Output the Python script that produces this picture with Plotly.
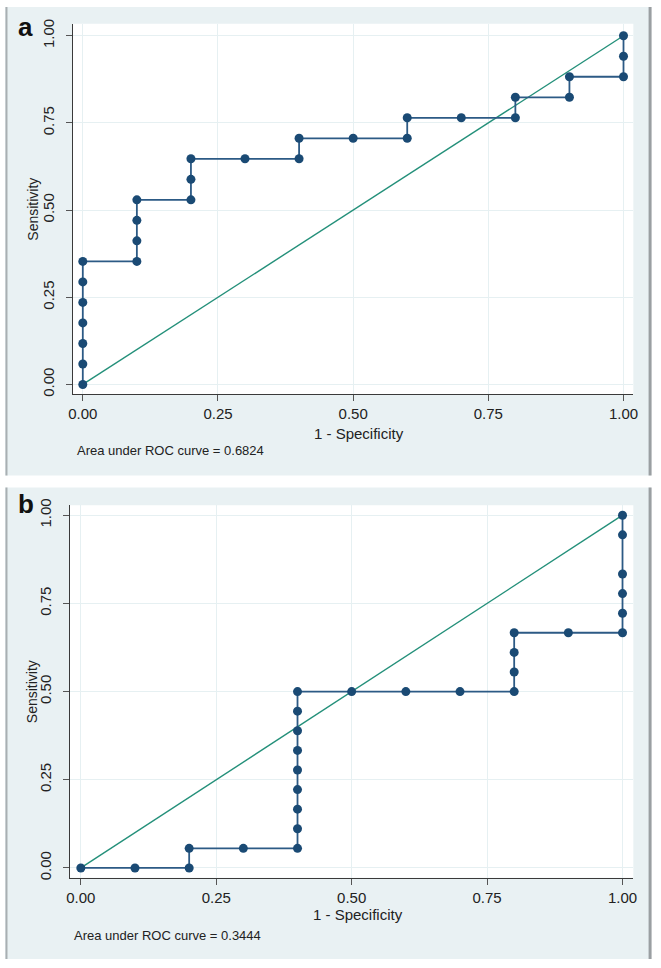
import plotly.graph_objects as go

W, H = 661, 968

# panel a: 1 - specificity / sensitivity steps
a_fpr = [0.0, 0.0, 0.0, 0.0, 0.0, 0.0, 0.0, 0.1, 0.1, 0.1, 0.1, 0.2, 0.2, 0.2,
         0.3, 0.4, 0.4, 0.5, 0.6, 0.6, 0.7, 0.8, 0.8, 0.9, 0.9, 1.0, 1.0, 1.0]
a_sens = [0.0, 0.0588, 0.1176, 0.1765, 0.2353, 0.2941, 0.3529, 0.3529, 0.4118,
          0.4706, 0.5294, 0.5294, 0.5882, 0.6471, 0.6471, 0.6471, 0.7059, 0.7059,
          0.7059, 0.7647, 0.7647, 0.7647, 0.8235, 0.8235, 0.8824, 0.8824, 0.9412, 1.0]
a_auc = "0.6824"

# panel b
b_fpr = [0.0, 0.1, 0.2, 0.2, 0.3, 0.4, 0.4, 0.4, 0.4, 0.4, 0.4, 0.4, 0.4, 0.4,
         0.5, 0.6, 0.7, 0.8, 0.8, 0.8, 0.8, 0.9, 1.0, 1.0, 1.0, 1.0, 1.0, 1.0]
b_sens = [0.0, 0.0, 0.0, 0.0556, 0.0556, 0.0556, 0.1111, 0.1667, 0.2222, 0.2778,
          0.3333, 0.3889, 0.4444, 0.5, 0.5, 0.5, 0.5, 0.5, 0.5556, 0.6111, 0.6667,
          0.6667, 0.6667, 0.7222, 0.7778, 0.8333, 0.9444, 1.0]
b_auc = "0.3444"

ref_line = [0, 1]
ticks = [0, 0.25, 0.5, 0.75, 1.0]
tick_text = ["0.00", "0.25", "0.50", "0.75", "1.00"]

NAVY = "#1a4a74"
TEAL = "#24907a"
PANEL_BG = "#e9f1f3"
GRID = "#e6f0f2"
FONT = "Liberation Sans, Arial, sans-serif"


def px(x):
    return x / W


def py(y):
    return 1 - y / H


# pixel geometry of each panel
panels = [
    dict(name="a", fpr=a_fpr, sens=a_sens, auc=a_auc, top=0, bottom=473,
         plot=(69, 638, 17, 391), xr=[-0.0182, 1.0182], yr=[-0.0284, 1.0341],
         xtitle_y=430, auc_y=448, auc_x=71, ylab_x=29, letter_y=20),
    dict(name="b", fpr=b_fpr, sens=b_sens, auc=b_auc, top=485, bottom=961,
         plot=(66, 638, 503, 879), xr=[-0.02, 1.02], yr=[-0.028, 1.028],
         xtitle_y=916, auc_y=937, auc_x=68, ylab_x=27, letter_y=502),
]

fig = go.Figure()
shapes = []
annotations = []

for i, p in enumerate(panels, start=1):
    xa = "x" if i == 1 else f"x{i}"
    ya = "y" if i == 1 else f"y{i}"
    fig.add_trace(go.Scatter(
        x=ref_line, y=ref_line, mode="lines", xaxis=xa, yaxis=ya,
        line=dict(color=TEAL, width=1.4), showlegend=False, hoverinfo="skip",
    ))
    fig.add_trace(go.Scatter(
        x=p["fpr"], y=p["sens"], mode="lines+markers", xaxis=xa, yaxis=ya,
        line=dict(color="#2c5a85", width=1.8),
        marker=dict(color=NAVY, size=9), showlegend=False,
    ))
    x0, x1, y0, y1 = p["plot"]
    common = dict(
        tickvals=ticks, ticktext=tick_text, showgrid=True, gridcolor=GRID,
        gridwidth=1, zeroline=False, showline=True, linecolor="#3a3a3a",
        linewidth=1, ticks="outside", ticklen=6, tickcolor="#555",
        tickfont=dict(family=FONT, size=15, color="#222"), fixedrange=True,
    )
    fig.update_layout(**{
        ("xaxis" if i == 1 else f"xaxis{i}"): dict(
            domain=[px(x0), px(x1)], range=p["xr"], anchor=ya, **common),
        ("yaxis" if i == 1 else f"yaxis{i}"): dict(
            domain=[py(y1), py(y0)], range=p["yr"], anchor=xa, tickangle=-90,
            ticklabelstandoff=6, **common),
    })
    # panel background + frame
    shapes.append(dict(type="rect", xref="paper", yref="paper",
                       x0=0, x1=px(656), y0=py(p["bottom"]), y1=py(p["top"]),
                       fillcolor=PANEL_BG, line=dict(width=0), layer="below"))
    shapes.append(dict(type="line", xref="paper", yref="paper",
                       x0=px(1.5), x1=px(1.5), y0=py(p["bottom"]), y1=py(p["top"]),
                       line=dict(color="#a9afb2", width=2), layer="below"))
    shapes.append(dict(type="line", xref="paper", yref="paper",
                       x0=px(655), x1=px(655), y0=py(p["bottom"]), y1=py(p["top"]),
                       line=dict(color="#9a9fa2", width=3), layer="below"))
    shapes.append(dict(type="rect", xref="paper", yref="paper",
                       x0=px(x0), x1=px(x1), y0=py(y1), y1=py(y0),
                       fillcolor="white", line=dict(width=0), layer="below"))
    annotations += [
        dict(text="1 - Specificity", xref="paper", yref="paper",
             x=px((x0 + x1) / 2 + 6), y=py(p["xtitle_y"]), showarrow=False,
             xanchor="center", yanchor="middle",
             font=dict(family=FONT, size=15, color="#222")),
        dict(text="Sensitivity", xref="paper", yref="paper",
             x=px(p["ylab_x"]), y=py((y0 + y1) / 2), showarrow=False,
             textangle=-90, xanchor="center", yanchor="middle",
             font=dict(family=FONT, size=14, color="#222")),
        dict(text=f"Area under ROC curve = {p['auc']}", xref="paper", yref="paper",
             x=px(p["auc_x"]), y=py(p["auc_y"]), showarrow=False,
             xanchor="left", yanchor="middle",
             font=dict(family=FONT, size=13, color="#222")),
        dict(text=f"<b>{p['name']}</b>", xref="paper", yref="paper",
             x=px(11), y=py(p["letter_y"]), showarrow=False,
             xanchor="left", yanchor="middle",
             font=dict(family=FONT, size=26, color="#111")),
    ]

fig.update_layout(
    width=W, height=H,
    margin=dict(l=0, r=0, t=0, b=0),
    paper_bgcolor="white",
    plot_bgcolor="rgba(0,0,0,0)",
    shapes=shapes,
    annotations=annotations,
    showlegend=False,
)

# page body has a default 8px margin; drop it so the figure sits at (0, 0)
fig.write_html(
    "out.html",
    config={"displayModeBar": False},
    post_script="document.body.style.margin = '0px';",
)
